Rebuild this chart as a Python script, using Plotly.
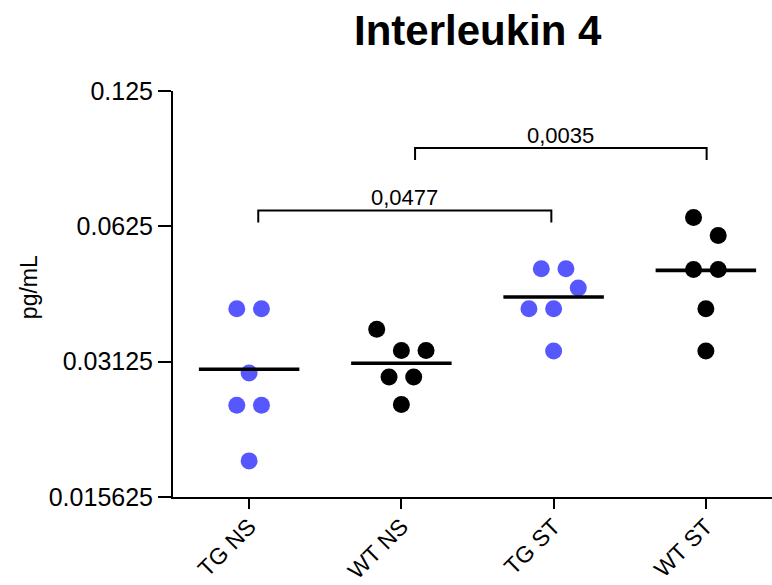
import numpy as np
import plotly.graph_objects as go

# ---- data ----
groups = ["TG NS", "WT NS", "TG ST", "WT ST"]
tg_ns = [0.0410, 0.0410, 0.0295, 0.0250, 0.0250, 0.0188]
wt_ns = [0.0369, 0.0331, 0.0331, 0.0289, 0.0289, 0.0251]
tg_st = [0.0503, 0.0503, 0.0456, 0.0410, 0.0410, 0.0330]
wt_st = [0.0654, 0.0596, 0.0501, 0.0501, 0.0410, 0.0330]
y_ticks = [0.015625, 0.03125, 0.0625, 0.125]
y_tick_labels = ["0.015625", "0.03125", "0.0625", "0.125"]
comparisons = [(0, 2, "0,0477"), (1, 3, "0,0035")]

# ---- layout / style (not data) ----
series = [tg_ns, wt_ns, tg_st, wt_st]
colors = ["#5757FF", "#000000", "#5757FF", "#000000"]
swarm_slots = [[-1, 1, 0, -1, 1, 0],
               [-2, 0, 2, -1, 1, 0],
               [-1, 1, 2, -2, 0, 0],
               [-1, 1, -1, 1, 0, 0]]
slot_w = 0.081
bracket_levels = [0.0678, 0.0933]
bracket_shift = [(0.06, -0.015), (0.09, 0.005)]
leg_factor = 2 ** (-12 / 135.5)
FONT = "Liberation Sans, Arial"

W, H = 772, 585
ml, mt, mb = 172.7, 91, 87.5
plot_w = W - ml
plot_h = H - mt - mb

fig = go.Figure()

for i, vals in enumerate(series):
    xs = [i + s * slot_w for s in swarm_slots[i]]
    fig.add_trace(go.Scatter(x=xs, y=vals, mode="markers",
                             marker=dict(size=17, color=colors[i], line=dict(width=0)),
                             showlegend=False, hoverinfo="y", cliponaxis=False))

for i, vals in enumerate(series):
    m = float(np.mean(vals))
    fig.add_trace(go.Scatter(x=[i - 0.33, i + 0.33], y=[m, m], mode="lines",
                             line=dict(color="black", width=3.6),
                             showlegend=False, hoverinfo="skip"))

for k, (a, b, label) in enumerate(comparisons):
    top = bracket_levels[k]
    bot = top * leg_factor
    xa = a + bracket_shift[k][0]
    xb = b + bracket_shift[k][1]
    fig.add_trace(go.Scatter(x=[xa, xa, xb, xb], y=[bot, top, top, bot], mode="lines",
                             line=dict(color="black", width=2),
                             showlegend=False, hoverinfo="skip"))
    fig.add_annotation(x=(xa + xb) / 2, y=np.log10(top), xref="x", yref="y",
                       text=label, showarrow=False, yanchor="bottom", yshift=-2,
                       font=dict(family=FONT, size=22, color="black"))

fig.add_annotation(x=(478 - ml) / plot_w, y=(H - mb - 30) / plot_h, xref="paper", yref="paper",
                   text="<b>Interleukin 4</b>", showarrow=False, xanchor="center", yanchor="middle",
                   font=dict(family=FONT, size=42, color="black"))
fig.add_annotation(x=(28 - ml) / plot_w, y=(H - mb - 287) / plot_h, xref="paper", yref="paper",
                   text="pg/mL", showarrow=False, textangle=-90, xanchor="center", yanchor="middle",
                   font=dict(family=FONT, size=23, color="black"))

span_right = 3.5 - (782 - W) / 152.4
fig.update_layout(
    width=W, height=H,
    margin=dict(l=ml, r=0, t=mt, b=mb, pad=0, autoexpand=False),
    paper_bgcolor="white", plot_bgcolor="white",
    xaxis=dict(range=[-0.5, span_right], tickmode="array", tickvals=list(range(len(groups))),
               ticktext=groups, tickangle=-45, ticks="outside", ticklen=10, tickwidth=2,
               tickcolor="black", showline=True, linecolor="black", linewidth=2,
               showgrid=False, zeroline=False, automargin=False, ticklabelstandoff=-5,
               tickfont=dict(family=FONT, size=23, color="black")),
    yaxis=dict(type="log", range=[np.log10(y_ticks[0]), np.log10(y_ticks[-1])],
               tickmode="array", tickvals=y_ticks, ticktext=y_tick_labels,
               ticks="outside", ticklen=13, tickwidth=2, tickcolor="black",
               showline=True, linecolor="black", linewidth=2, showgrid=False, zeroline=False,
               automargin=False,
               tickfont=dict(family=FONT, size=25, color="black")),
)

fig.write_html("out.html")
